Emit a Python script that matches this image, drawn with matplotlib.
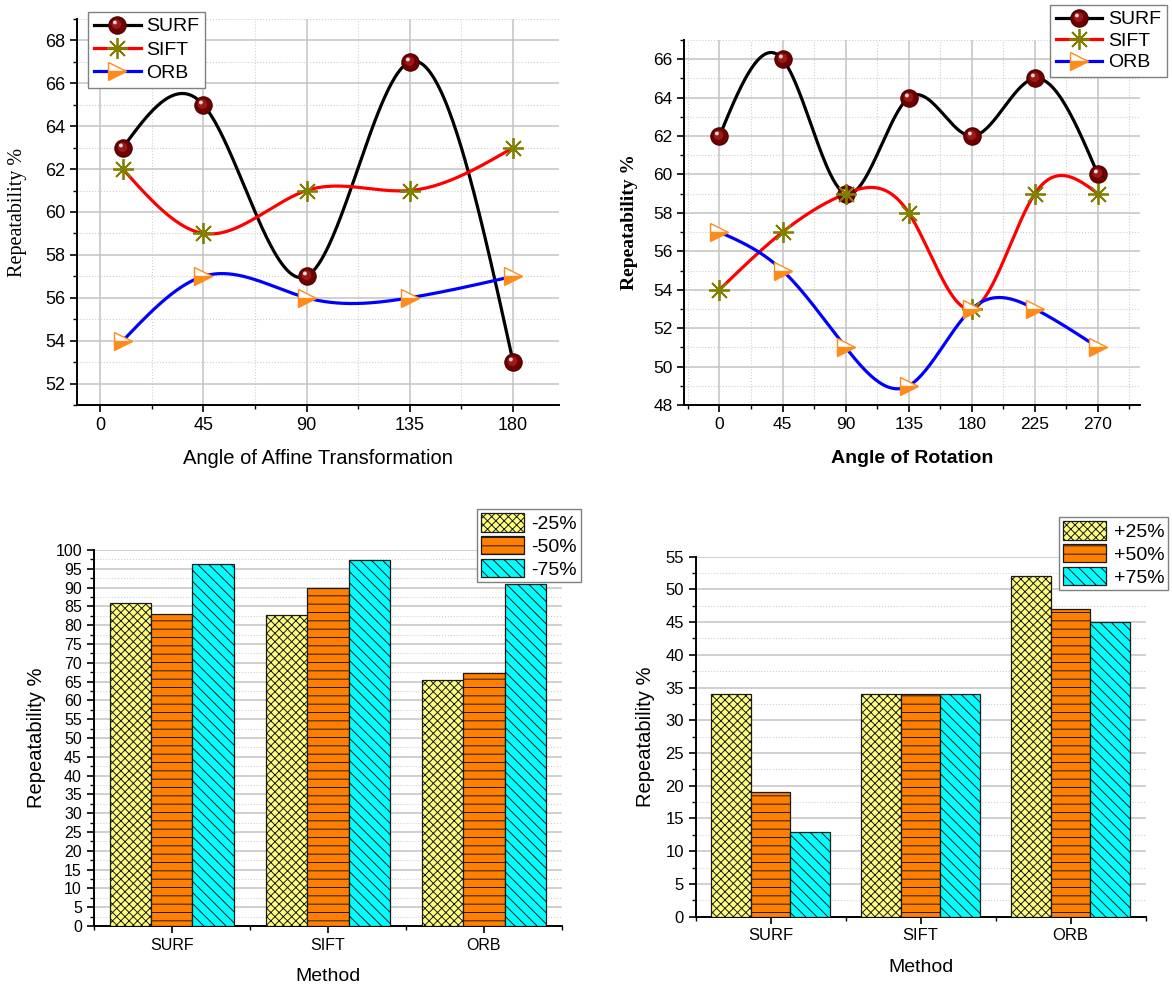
import numpy as np
import matplotlib
matplotlib.use("Agg")
import matplotlib.pyplot as plt
from matplotlib.path import Path
from matplotlib.lines import Line2D
from matplotlib.patches import Patch
from matplotlib.ticker import MultipleLocator, FixedLocator

plt.rcParams['font.family'] = ['Liberation Sans', 'DejaVu Sans']
plt.rcParams['hatch.linewidth'] = 0.7

# repeatability vs affine angle
affine_angles = [10, 45, 90, 135, 180]
affine_surf = [63, 65, 57, 67, 53]
affine_sift = [62, 59, 61, 61, 63]
affine_orb = [54, 57, 56, 56, 57]

# repeatability vs rotation angle
rot_angles = [0, 45, 90, 135, 180, 225, 270]
rot_surf = [62, 66, 59, 64, 62, 65, 60]
rot_sift = [54, 57, 59, 58, 53, 59, 59]
rot_orb = [57, 55, 51, 49, 53, 53, 51]

# scale changes, one list per scale level (SURF, SIFT, ORB)
methods = ['SURF', 'SIFT', 'ORB']
down_labels = ['-25%', '-50%', '-75%']
down_vals = [[86, 82.7, 65.3],
             [83, 90, 67.3],
             [96.3, 97.2, 91]]
up_labels = ['+25%', '+50%', '+75%']
up_vals = [[34, 34, 52],
           [19, 34, 47],
           [13, 34, 45]]

bar_colors = ['#ffff80', '#ff8000', '#00ffff']
bar_hatches = ['xxxx', '--', '\\\\\\']


def spline(x, y, n=300):
    # natural cubic spline through the points
    x = np.asarray(x, float)
    y = np.asarray(y, float)
    k = len(x)
    h = np.diff(x)
    A = np.zeros((k, k))
    r = np.zeros(k)
    A[0, 0] = A[-1, -1] = 1
    for i in range(1, k - 1):
        A[i, i - 1] = h[i - 1]
        A[i, i] = 2 * (h[i - 1] + h[i])
        A[i, i + 1] = h[i]
        r[i] = 3 * ((y[i + 1] - y[i]) / h[i] - (y[i] - y[i - 1]) / h[i - 1])
    c = np.linalg.solve(A, r)
    b = (y[1:] - y[:-1]) / h - h * (2 * c[:-1] + c[1:]) / 3
    d = (c[1:] - c[:-1]) / (3 * h)
    xs = np.linspace(x[0], x[-1], n)
    idx = np.clip(np.searchsorted(x, xs) - 1, 0, k - 2)
    dx = xs - x[idx]
    ys = y[idx] + b[idx] * dx + c[idx] * dx ** 2 + d[idx] * dx ** 3
    return xs, ys


def spot(cx, cy, rad):
    # circle marker placed off-centre inside the unit ball frame
    circ = Path.circle((cx, cy), rad)
    verts = np.vstack([[[-1, -1], [1, 1]], circ.vertices])
    codes = [Path.MOVETO, Path.MOVETO] + list(circ.codes)
    return Path(verts, codes)


ball_mid = spot(-0.12, 0.15, 0.55)
ball_hi = spot(-0.3, 0.35, 0.22)

MS = 12.5
surf_style = [dict(marker='o', ms=MS, mfc='#6e0000', mec='#4a0000', mew=0.8),
              dict(marker=ball_mid, ms=MS, mfc='#9a1a1a', mew=0),
              dict(marker=ball_hi, ms=MS, mfc='#f4dede', mew=0)]
sift_style = dict(marker=(8, 2, 0), ms=15, mec='#808000', mew=1.3)
orb_style = dict(marker='>', ms=13, mfc='#ff8c1a', mfcalt='white',
                 fillstyle='bottom', mec='#ff8c1a', mew=1.0)


def draw_lines(ax, x, surf, sift, orb):
    for ys, col in [(surf, 'black'), (sift, 'red'), (orb, 'blue')]:
        xs, yy = spline(x, ys)
        ax.plot(xs, yy, color=col, lw=2.3, zorder=3)
    for st in surf_style:
        ax.plot(x, surf, ls='none', zorder=5, **st)
    ax.plot(x, sift, ls='none', zorder=5, **sift_style)
    ax.plot(x, orb, ls='none', zorder=5, **orb_style)


def line_handles():
    surf_h = tuple([Line2D([], [], color='black', lw=2.3, **surf_style[0])] +
                   [Line2D([], [], ls='none', **s) for s in surf_style[1:]])
    sift_h = Line2D([], [], color='red', lw=2.3, **sift_style)
    orb_h = Line2D([], [], color='blue', lw=2.3, **orb_style)
    return [surf_h, sift_h, orb_h]


def style_axes(ax, xgrid=True, tsize=12):
    for s in ['top', 'right']:
        ax.spines[s].set_visible(False)
    for s in ['left', 'bottom']:
        ax.spines[s].set_linewidth(1.4)
    ax.set_axisbelow(True)
    ax.tick_params(which='major', direction='out', length=5, width=1.2, labelsize=tsize)
    ax.tick_params(which='minor', direction='out', length=3, width=1.0)
    ax.yaxis.grid(True, which='major', color='#c4c4c4', lw=1.1)
    ax.yaxis.grid(True, which='minor', color='#cfcfcf', lw=0.8, ls=':')
    if xgrid:
        ax.xaxis.grid(True, which='major', color='#c4c4c4', lw=1.1)
        ax.xaxis.grid(True, which='minor', color='#cfcfcf', lw=0.8, ls=':')


def draw_bars(ax, vals, labels):
    pos = np.arange(1, len(methods) + 1)
    w = 0.265
    handles = []
    for i, v in enumerate(vals):
        ax.bar(pos + (i - 1) * w, v, w, color=bar_colors[i], hatch=bar_hatches[i],
               edgecolor='#1a1a1a', lw=0.9, zorder=3)
        handles.append(Patch(facecolor=bar_colors[i], hatch=bar_hatches[i],
                             edgecolor='#1a1a1a', lw=0.9, label=labels[i]))
    ax.set_xlim(0.5, 3.5)
    ax.set_xticks(pos)
    ax.set_xticklabels(methods)
    ax.xaxis.set_minor_locator(FixedLocator([0.5, 1.5, 2.5, 3.5]))
    ax.yaxis.set_major_locator(MultipleLocator(5))
    ax.yaxis.set_minor_locator(MultipleLocator(2.5))
    ax.set_xlabel('Method', fontsize=14, labelpad=11)
    return handles


fig = plt.figure(figsize=(11.72, 9.88), dpi=100)

leg_kw = dict(fontsize=14, frameon=True, fancybox=False, framealpha=1,
              edgecolor='#808080', borderaxespad=0, bbox_transform=fig.transFigure)

# top left: affine transformation
ax1 = fig.add_axes([0.0657, 0.5901, 0.4113, 0.3907])
draw_lines(ax1, affine_angles, affine_surf, affine_sift, affine_orb)
ax1.set_xlim(-10, 200)
ax1.set_ylim(51, 69)
ax1.set_xticks([0, 45, 90, 135, 180])
ax1.set_yticks(np.arange(52, 69, 2))
ax1.xaxis.set_minor_locator(MultipleLocator(22.5))
ax1.yaxis.set_minor_locator(MultipleLocator(1))
style_axes(ax1, tsize=13)
ax1.set_xlabel('Angle of Affine Transformation', fontsize=14.5, labelpad=11)
ax1.set_ylabel('Repeatability %', fontsize=14.5, family='Liberation Serif', labelpad=13)
leg = ax1.legend(line_handles(), ['SURF', 'SIFT', 'ORB'], loc='upper left',
                 bbox_to_anchor=(0.0751, 0.9879), handlelength=2.4, handletextpad=0.3,
                 labelspacing=0.3, borderpad=0.3, **leg_kw)
leg.get_frame().set_linewidth(1.0)

# top right: rotation
ax2 = fig.add_axes([0.5840, 0.5901, 0.3887, 0.3694])
draw_lines(ax2, rot_angles, rot_surf, rot_sift, rot_orb)
ax2.set_xlim(-25, 300)
ax2.set_ylim(48, 67)
ax2.set_xticks(rot_angles)
ax2.set_yticks(np.arange(48, 67, 2))
ax2.xaxis.set_minor_locator(MultipleLocator(22.5))
ax2.yaxis.set_minor_locator(MultipleLocator(1))
style_axes(ax2, tsize=12.5)
ax2.set_xlabel('Angle of Rotation', fontsize=14, fontweight='bold', labelpad=13)
ax2.set_ylabel('Repeatability %', fontsize=14, family='Liberation Serif',
               fontweight='bold', labelpad=11)
leg = ax2.legend(line_handles(), ['SURF', 'SIFT', 'ORB'], loc='upper right',
                 bbox_to_anchor=(0.9957, 0.9949), handlelength=2.4, handletextpad=0.3,
                 labelspacing=0.2, borderpad=0.3, **leg_kw)
leg.get_frame().set_linewidth(1.0)

# bottom left: scale down
ax3 = fig.add_axes([0.0800, 0.0628, 0.3995, 0.3806])
h3 = draw_bars(ax3, down_vals, down_labels)
ax3.set_ylim(0, 100)
style_axes(ax3, xgrid=False, tsize=11.5)
ax3.set_ylabel('Repeatability %', fontsize=14.5, labelpad=7)
leg = ax3.legend(handles=h3, loc='upper right', bbox_to_anchor=(0.4957, 0.4848),
                 handlelength=2.2, handleheight=1.1, handletextpad=0.4,
                 labelspacing=0.15, borderpad=0.2, **leg_kw)
leg.get_frame().set_linewidth(1.0)

# bottom right: scale up
ax4 = fig.add_axes([0.5935, 0.0722, 0.3840, 0.3644])
h4 = draw_bars(ax4, up_vals, up_labels)
ax4.set_ylim(0, 55)
style_axes(ax4, xgrid=False, tsize=12)
ax4.set_ylabel('Repeatability %', fontsize=14.5, labelpad=7)
leg = ax4.legend(handles=h4, loc='upper right', bbox_to_anchor=(0.9966, 0.4767),
                 handlelength=2.2, handleheight=1.1, handletextpad=0.4,
                 labelspacing=0.15, borderpad=0.2, **leg_kw)
leg.get_frame().set_linewidth(1.0)

fig.savefig('out.png', dpi=100)
